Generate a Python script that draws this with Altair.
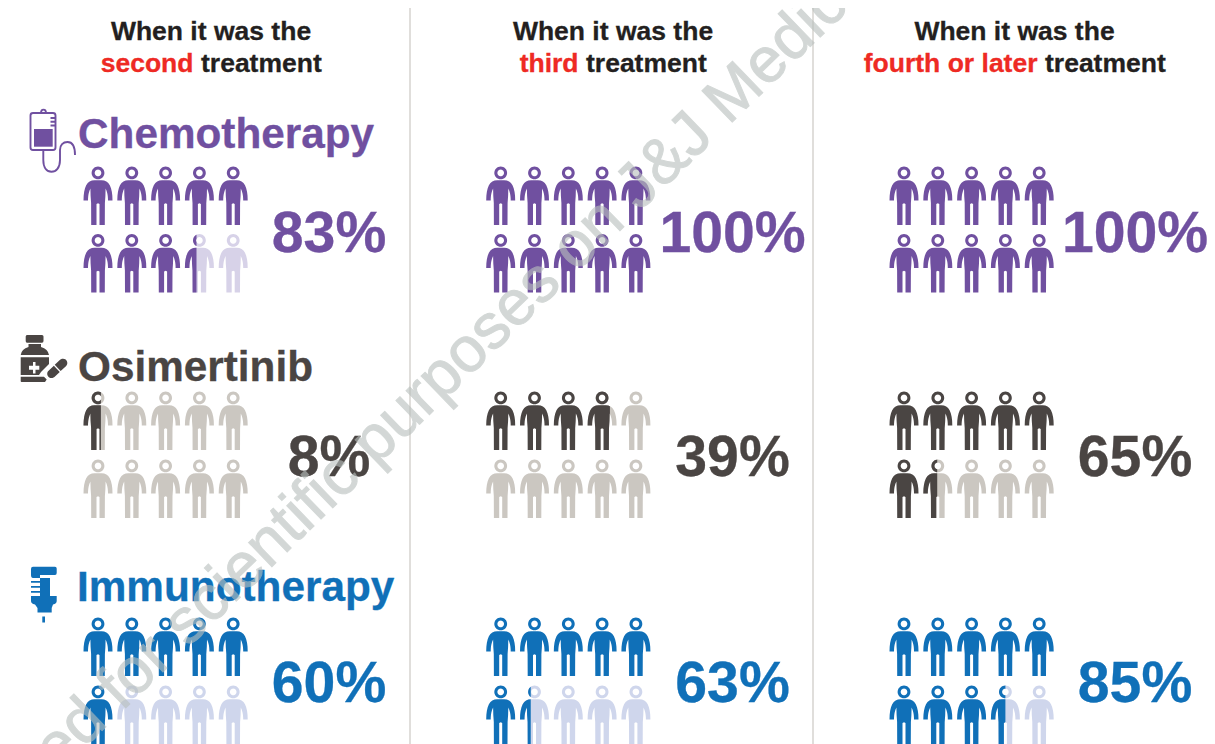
import math
import re
import altair as alt
import pandas as pd

# ---- values ----
regimens = ["Chemotherapy", "Osimertinib", "Immunotherapy"]
settings = ["second", "third", "fourth or later"]
percent_values = {
    "Chemotherapy": [83, 100, 100],
    "Osimertinib": [8, 39, 65],
    "Immunotherapy": [60, 63, 85],
}
# number of people drawn filled out of ten, as pictured
people_filled = {
    "Chemotherapy": [8.4, 10, 10],
    "Osimertinib": [0.6, 3.77, 6.48],
    "Immunotherapy": [6.0, 6.37, 8.5],
}
watermark = "ed for scientific purposes on J&J Medic"

# ---- layout and style ----
FONT = "Liberation Sans"
PANEL_LEFT = [98, 500.7, 904]
PANEL_PCT = [329, 732.5, 1135]
COL_STEP = 33.8
ROW_CENTERS = {"Chemotherapy": (196, 263.5), "Osimertinib": (421, 489), "Immunotherapy": (647, 715)}
TITLE_BASE = {"Chemotherapy": 148, "Osimertinib": 381, "Immunotherapy": 601}
PCT_BASE = {"Chemotherapy": 252, "Osimertinib": 476, "Immunotherapy": 702}
DARK = {"Chemotherapy": "#7050A0", "Osimertinib": "#4A4543", "Immunotherapy": "#1070B8"}
LIGHT = {"Chemotherapy": "#D7D2E8", "Osimertinib": "#CBC7C1", "Immunotherapy": "#CFD6EC"}
U = 50.0  # px per unit of the custom symbol
GLYPH_SIZE = (2 * U) ** 2

def bez(p0, p1, p2, p3, n=8):
    out = []
    for i in range(1, n + 1):
        t = i / n
        m = 1 - t
        out.append((m**3*p0[0] + 3*m*m*t*p1[0] + 3*m*t*t*p2[0] + t**3*p3[0],
                    m**3*p0[1] + 3*m*m*t*p1[1] + 3*m*t*t*p2[1] + t**3*p3[1]))
    return out

def circle(cx, cy, r, ccw=False, n=32):
    s = -1 if ccw else 1
    return [(cx + r*math.cos(s*2*math.pi*i/n), cy + r*math.sin(s*2*math.pi*i/n)) for i in range(n)]

left = [(0, -15.8), (-3.5, -15.8)]
left += bez((-3.5, -15.8), (-11, -15.8), (-14.5, -9), (-14.5, 4.6))
left += [(-10.0, 4.6)]
left += bez((-10.0, 4.6), (-10.0, -1), (-9.0, -4.5), (-7.6, -7.5))
left += [(-7.4, 0), (-6.9, 7), (-6.8, 29), (-1.5, 29), (-1.5, 8), (0, 7.2)]
body = left + [(-x, y) for x, y in reversed(left[1:-1])]
PERSON = [body, circle(0, -23.1, 6.4), circle(0, -23.1, 3.3, ccw=True)]

def clip_right(ring, xmax):
    out = []
    for i, a in enumerate(ring):
        b = ring[(i + 1) % len(ring)]
        ia, ib = a[0] <= xmax, b[0] <= xmax
        if ia:
            out.append(a)
        if ia != ib:
            t = (xmax - a[0]) / (b[0] - a[0])
            out.append((xmax, a[1] + t * (b[1] - a[1])))
    return out

def rings_path(rings):
    d = ""
    for r in rings:
        if len(r) >= 3:
            d += "M" + "L".join(f"{x/U:.4f},{y/U:.4f}" for x, y in r) + "Z"
    return d

def person_path(frac=1.0):
    if frac >= 1:
        return rings_path(PERSON)
    return rings_path([clip_right(r, -14.5 + 29 * frac) for r in PERSON])

def icon_path(d, ox, oy):
    nums = iter(range(10**6))
    def rep(m):
        i = next(nums)
        v = float(m.group()) - (ox if i % 2 == 0 else oy)
        return f"{v/U:.4f}"
    return re.sub(r"-?\d+\.?\d*", rep, d)

def capsule(p, q, hw, gap=1.2):
    L = math.dist(p, q)
    ux, uy = (q[0]-p[0])/L, (q[1]-p[1])/L
    nx, ny = -uy, ux
    mx, my = (p[0]+q[0])/2, (p[1]+q[1])/2
    ang = math.atan2(ny, nx)
    m1 = (mx-ux*gap/2, my-uy*gap/2)
    m2 = (mx+ux*gap/2, my+uy*gap/2)
    a = [(m1[0]+nx*hw, m1[1]+ny*hw)]
    a += [(p[0]+hw*math.cos(ang+math.pi*i/12), p[1]+hw*math.sin(ang+math.pi*i/12)) for i in range(13)]
    a += [(m1[0]-nx*hw, m1[1]-ny*hw)]
    b = [(m2[0]-nx*hw, m2[1]-ny*hw)]
    b += [(q[0]+hw*math.cos(ang+math.pi+math.pi*i/12), q[1]+hw*math.sin(ang+math.pi+math.pi*i/12)) for i in range(13)]
    b += [(m2[0]+nx*hw, m2[1]+ny*hw)]
    return "".join("M" + " L".join(f"{x:.2f},{y:.2f}" for x, y in pts) + " Z " for pts in (a, b))

# ---- person marks ----
rows = []
for r in regimens:
    for p, left_x in enumerate(PANEL_LEFT):
        filled = people_filled[r][p]
        for k in range(10):
            x = left_x + (k % 5) * COL_STEP
            y = ROW_CENTERS[r][k // 5]
            share = min(max(filled - k, 0), 1)
            if share < 1:
                rows.append(dict(x=x, y=y, path=person_path(), color=LIGHT[r], order=0))
            if share > 0:
                rows.append(dict(x=x, y=y, path=person_path(share), color=DARK[r], order=1))
people = pd.DataFrame(rows).sort_values("order")

X = alt.X("x:Q", scale=alt.Scale(domain=[8, 1207], nice=False, zero=False), axis=None)
Y = alt.Y("y:Q", scale=alt.Scale(domain=[744, 8], nice=False, zero=False), axis=None)

def glyphs(df):
    return alt.Chart(df).mark_point(filled=True, opacity=1, clip=True, strokeWidth=0).encode(
        x=X, y=Y,
        shape=alt.Shape("path:N", scale=None, legend=None),
        fill=alt.Fill("color:N", scale=None, legend=None),
        size=alt.value(GLYPH_SIZE),
        order=alt.Order("order:Q"),
    )

def outlines(df):
    return alt.Chart(df).mark_point(filled=False, opacity=1, clip=True, strokeWidth=1.9, fill="transparent").encode(
        x=X, y=Y,
        shape=alt.Shape("path:N", scale=None, legend=None),
        stroke=alt.Stroke("color:N", scale=None, legend=None),
        size=alt.value(GLYPH_SIZE),
    )

def texts(df, align, size):
    return alt.Chart(df).mark_text(font=FONT, fontWeight="bold", fontSize=size, align=align,
                                   baseline="alphabetic", strokeWidth=0.3).encode(
        x=X, y=Y, text="text:N",
        color=alt.Color("color:N", scale=None, legend=None),
        stroke=alt.Stroke("color:N", scale=None, legend=None))

# ---- headers ----
INK = "#231F20"
RED = "#EE2A24"
SPLIT = [193.5, 578.5, 1037.5]
CENTER = [211, 613, 1014.5]
head_center = pd.DataFrame([dict(x=c, y=40, text="When it was the", color=INK) for c in CENTER])
head_red = pd.DataFrame([dict(x=s, y=72, text=t, color=RED) for s, t in zip(SPLIT, settings)])
head_ink = pd.DataFrame([dict(x=s + 7.5, y=72, text="treatment", color=INK) for s in SPLIT])

titles = pd.DataFrame([dict(x=78 if r != "Immunotherapy" else 77, y=TITLE_BASE[r], text=r, color=DARK[r]) for r in regimens])
pcts = pd.DataFrame([dict(x=PANEL_PCT[p], y=PCT_BASE[r], text=f"{percent_values[r][p]}%", color=DARK[r])
                     for r in regimens for p in range(3)])

dividers = pd.DataFrame([dict(x=410, y=8, y2=744), dict(x=813, y=8, y2=744)])
rules = alt.Chart(dividers).mark_rule(color="#CFCCC8", strokeWidth=1.3).encode(x=X, y=Y, y2="y2:Q")

# ---- icons ----
BAG_OX, BAG_OY = 50, 140
bag_line = ("M33,113 L53,113 Q55.5,113 55.5,115.5 L55.5,147.5 Q55.5,150 53,150 L33,150 Q30.5,150 30.5,147.5 "
            "L30.5,115.5 Q30.5,113 33,113 Z M41,113 C41,108.5 46,108.5 46,113 "
            "M50.5,118 L55,118 M50.5,121.8 L55,121.8 M50.5,125.5 L55,125.5 "
            "M43.3,150 L43.3,160 C43.3,168 47,171.7 51.5,171.7 C56,171.7 60,168 60,160 L60,150 "
            "C60,145 63,142 67.5,142 C72,142 75,146 75,155")
bag_fill = "M34,129 L52.7,129 L52.7,146.7 L34,146.7 Z"
BOT_OX, BOT_OY = 44, 358
bottle = ("M27,335 L42,335 Q43.5,335 43.5,336.5 L43.5,341 Q43.5,342.7 42,342.7 L27,342.7 Q25.7,342.7 25.7,341 L25.7,336.5 Q25.7,335 27,335 Z "
          "M28.5,344 L41,344 L41,347 Q48,349 49,355 L20.7,355 Q21.5,349 28.5,347 Z "
          "M20.7,357.3 L49,357.3 L49,364 L41,372 L39,375 L20.7,375 Z "
          "M29,365.7 L29,369.7 L33,369.7 L33,373.5 L35.5,373.5 L35.5,369.7 L39.3,369.7 L39.3,365.7 L35.5,365.7 L35.5,362 L33,362 L33,365.7 Z "
          "M20.7,376.7 L44,376.7 L46.7,379.5 L45,381.9 L21.5,381.9 Q20.7,381.9 20.7,381 Z ")
bottle += capsule((51.5, 373.8), (63, 363), 4.3)
SYR_OX, SYR_OY = 44, 595
syringe = ("M33,566.7 L55,566.7 Q56.7,566.7 56.7,568.5 L56.7,573 Q56.7,575 55,575 L40,575 L40,578 L33,578 Q31,578 31,575 L31,569 Q31,566.7 33,566.7 Z "
           "M40,578 L50,578 L50,596 L40,596 Z "
           "M31,581 L41,581 L41,582.8 L31,582.8 Z "
           "M31,586 L41,586 L41,587.8 L31,587.8 Z "
           "M31,591 L41,591 L41,592.8 L31,592.8 Z "
           "M31,596 L56.7,596 L56.7,601 Q56.7,603.5 53,604.5 L51.7,608 L51.7,612.5 L37.5,612.5 L37.5,608 L35,604.5 Q31,603.5 31,601 Z "
           "M42.3,616.5 L45,616.5 L45,622.5 L42.3,622.5 Z")

icons_fill = pd.DataFrame([
    dict(x=BAG_OX, y=BAG_OY, path=icon_path(bag_fill, BAG_OX, BAG_OY), color=DARK["Chemotherapy"], order=0),
    dict(x=BOT_OX, y=BOT_OY, path=icon_path(bottle, BOT_OX, BOT_OY), color=DARK["Osimertinib"], order=0),
    dict(x=SYR_OX, y=SYR_OY, path=icon_path(syringe, SYR_OX, SYR_OY), color=DARK["Immunotherapy"], order=0),
])
icons_line = pd.DataFrame([
    dict(x=BAG_OX, y=BAG_OY, path=icon_path(bag_line, BAG_OX, BAG_OY), color=DARK["Chemotherapy"]),
])

# ---- watermark ----
wm = pd.DataFrame([dict(x=441, y=377, text=watermark)])
wm_layer = alt.Chart(wm).mark_text(font=FONT, fontSize=63.5, align="center", baseline="middle", angle=316,
                                   color="#B9C0BE", stroke="#B9C0BE", strokeWidth=1.0,
                                   opacity=0.62, clip=True).encode(x=X, y=Y, text="text:N")

chart = alt.layer(
    rules,
    glyphs(people),
    glyphs(icons_fill),
    outlines(icons_line),
    texts(head_center, "center", 26.5),
    texts(head_red, "right", 26.5),
    texts(head_ink, "left", 26.5),
    texts(titles, "left", 42.3),
    texts(pcts, "center", 57.2),
    wm_layer,
).properties(
    width=1199, height=736, padding=0, background="white",
    autosize=alt.AutoSizeParams(type="none"),
).configure_view(stroke=None)

chart.save("out.html", embed_options={"renderer": "svg", "actions": False})
